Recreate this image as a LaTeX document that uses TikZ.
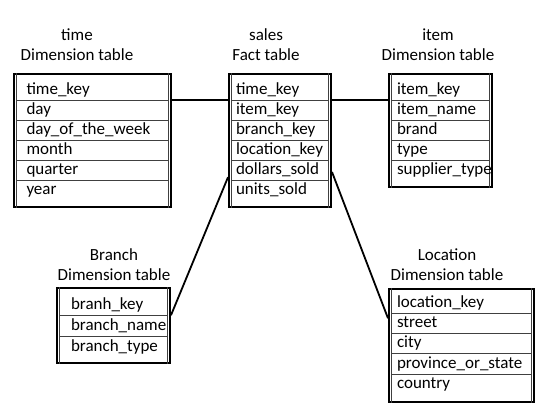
\documentclass[tikz,border=0pt]{standalone}
\usepackage{fontspec}
\setmainfont{Carlito}
\usetikzlibrary{calc}
\tikzset{
  frame/.style={draw, line width=2pt, inner sep=0pt},
  cell/.style={inner ysep=0pt, minimum height=#1,
    align=left, font=\fontsize{17}{20}\selectfont, text height=12.5pt, text depth=3.5pt},
  hdr/.style={align=center, font=\fontsize{17}{20}\selectfont, inner sep=0pt},
  rule/.style={line width=0.8pt, black!75},
  link/.style={line width=1.8pt},
}
\begin{document}
\begin{tikzpicture}[x=1pt,y=-1pt]
\useasboundingbox[fill=white] (0,0) rectangle (545,419);
% headers
\node[hdr] (timeH) at (77,45) {time\\Dimension table};
\node[hdr] (salesH) at (266,45) {sales\\Fact table};
\node[hdr] (itemH) at (438,45) {item\\Dimension table};
\node[hdr] (branchH) at (114,264.5) {Branch\\Dimension table};
\node[hdr] (locH) at (447,264.5) {Location\\Dimension table};
% frames
\node[frame, minimum width=157pt, minimum height=133pt] (time) at (92.5,141) {};
\node[frame, minimum width=102pt, minimum height=133pt] (sales) at (280,141) {};
\node[frame, minimum width=103pt, minimum height=113pt] (item) at (440.5,130.5) {};
\node[frame, minimum width=113pt, minimum height=75pt] (branch) at (113.5,325.5) {};
\node[frame, minimum width=145pt, minimum height=113pt] (location) at (461.5,345.5) {};
% inner side lines
\foreach \n in {time,sales,item,branch,location} {
  \draw[rule] ($(\n.north west)+(3.5,0)$) -- ($(\n.south west)+(3.5,0)$);
  \draw[rule] ($(\n.north east)+(-3.5,0)$) -- ($(\n.south east)+(-3.5,0)$);
}
% rows
\foreach \t [count=\i] in {time\_key,day,day\_of\_the\_week,month,quarter,year}
  \node[cell=20pt, minimum width=150pt, text width=132pt, inner xsep=9pt] (time\i) at (92.5,{70+20*\i}) {\t};
\foreach \t [count=\i] in {time\_key,item\_key,branch\_key,location\_key,dollars\_sold,units\_sold}
  \node[cell=20pt, minimum width=95pt, text width=88pt, inner xsep=3.5pt] (sales\i) at (280,{70+20*\i}) {\t};
\foreach \t [count=\i] in {item\_key,item\_name,brand,type,supplier\_type}
  \node[cell=20pt, minimum width=96pt, text width=87pt, inner xsep=4.5pt] (item\i) at (440.5,{70+20*\i}) {\t};
\foreach \t [count=\i] in {branh\_key,branch\_name,branch\_type}
  \node[cell=21pt, minimum width=106pt, text width=85pt, inner xsep=10.5pt] (branch\i) at (113.5,{283.5+21*\i}) {\t};
\foreach \t [count=\i] in {location\_key,street,city,province\_or\_state,country}
  \node[cell=20.2pt, minimum width=138pt, text width=129pt, inner xsep=4.5pt] (location\i) at (461.5,{282.8+20.2*\i}) {\t};
% row dividers
\foreach \i in {1,...,5} {
  \draw[rule] (time\i.south west) -- (time\i.south east);
  \draw[rule] (sales\i.south west) -- (sales\i.south east);
}
\foreach \i in {1,...,4} {
  \draw[rule] (item\i.south west) -- (item\i.south east);
  \draw[rule] (location\i.south west) -- (location\i.south east);
}
\foreach \i in {1,2}
  \draw[rule] (branch\i.south west) -- (branch\i.south east);
% connectors
\draw[link] (time.east |- time1.south) -- (sales.west |- sales1.south);
\draw[link] (sales.east |- sales1.south) -- (item.west |- item1.south);
\draw[link] ($(sales.west |- sales5.south)+(0,-3)$) -- (branch.east |- branch1.south);
\draw[link] ($(sales.east |- sales5.center)+(0,2)$) -- ($(location.west |- location1.south)+(0,5)$);
\end{tikzpicture}
\end{document}
